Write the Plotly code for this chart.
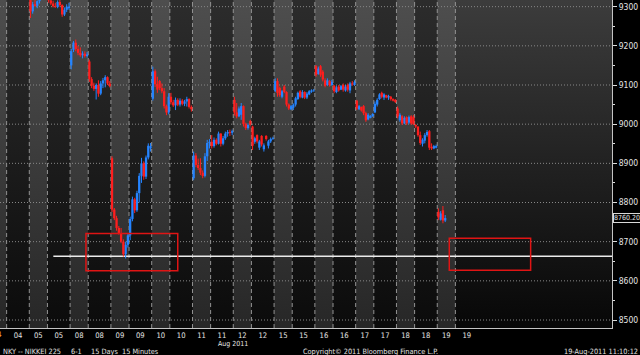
import plotly.graph_objects as go

# ---------------- data ----------------
days = ["04", "05", "08", "09", "10", "11", "12", "15", "16", "17", "18", "19"]
AM_SLOTS = 8    # 15-minute slots in the morning session
PM_SLOTS = 10   # 15-minute slots in the afternoon session
bars_per_session = [0, 0] + [8, 10] * 10 + [4, 0]

opens = [
    9340, 9288, 9306, 9302, 9314, 9326, 9340, 9335,                      # 05 am
    9342, 9316, 9308, 9301, 9299, 9312, 9304, 9280, 9292, 9296,          # 05 pm
    9150, 9190, 9208, 9192, 9182, 9176, 9180, 9174,                      # 08 am
    9160, 9115, 9098, 9090, 9100, 9078, 9104, 9112, 9120, 9104,          # 08 pm
    8913, 8782, 8760, 8735, 8722, 8700, 8668, 8692,                      # 09 am
    8716, 8758, 8808, 8780, 8824, 8868, 8900, 8866, 8915, 8938,          # 09 pm
    9065, 9135, 9102, 9110, 9092, 9084, 9046, 9030,                      # 10 am
    9070, 9056, 9048, 9062, 9050, 9060, 9052, 9058, 9064, 9044,          # 10 pm
    8862, 8920, 8896, 8888, 8876, 8868, 8918, 8952,                      # 11 am
    8955, 8944, 8960, 8950, 8976, 8950, 8964, 8976, 8980, 8978,          # 11 pm
    9062, 9030, 9020, 9024, 9046, 9000, 8990, 9008,                      # 12 am
    8994, 8955, 8972, 8940, 8970, 8936, 8970, 8945, 8956, 8962,          # 12 pm
    9085, 9110, 9092, 9070, 9096, 9082, 9050, 9038,                      # 15 am
    9042, 9050, 9064, 9084, 9068, 9082, 9068, 9076, 9083, 9084,          # 15 pm
    9148, 9128, 9148, 9134, 9112, 9100, 9110, 9100,                      # 16 am
    9098, 9082, 9096, 9088, 9100, 9086, 9100, 9086, 9104, 9100,          # 16 pm
    9060, 9038, 9044, 9046, 9028, 9012, 9016, 9020,                      # 17 am
    9030, 9050, 9064, 9080, 9068, 9074, 9068, 9070, 9064, 9062,          # 17 pm
    9040, 9010, 9020, 9002, 9018, 9004, 9020, 9018,                      # 18 am
    8998, 8994, 8972, 8950, 8958, 8972, 8982, 8942, 8938, 8940,          # 18 pm
    8776, 8756, 8780, 8754,                                              # 19 am
]
highs = [
    9350, 9312, 9318, 9316, 9330, 9345, 9352, 9348,
    9350, 9328, 9315, 9310, 9316, 9318, 9306, 9298, 9306, 9310,
    9192, 9212, 9216, 9200, 9196, 9186, 9186, 9184,
    9165, 9120, 9106, 9104, 9112, 9110, 9118, 9125, 9122, 9110,
    8918, 8786, 8766, 8740, 8735, 8706, 8700, 8722,
    8764, 8815, 8812, 8830, 8875, 8914, 8905, 8920, 8951, 8952,
    9147, 9140, 9121, 9113, 9104, 9092, 9050, 9079,
    9080, 9062, 9068, 9066, 9066, 9064, 9062, 9070, 9066, 9048,
    8930, 8926, 8912, 8913, 8882, 8926, 8960, 8962,
    8972, 8966, 8964, 8981, 8977, 8970, 8981, 8985, 8986, 8986,
    9070, 9054, 9045, 9054, 9048, 9004, 9002, 9011,
    8996, 8968, 8974, 8960, 8972, 8951, 8972, 8960, 8966, 8968,
    9117, 9117, 9096, 9087, 9100, 9084, 9053, 9049,
    9053, 9070, 9083, 9087, 9087, 9084, 9082, 9087, 9089, 9090,
    9151, 9147, 9151, 9138, 9117, 9117, 9113, 9113,
    9100, 9098, 9100, 9100, 9104, 9100, 9104, 9108, 9110, 9112,
    9062, 9049, 9045, 9049, 9032, 9028, 9023, 9028,
    9058, 9066, 9079, 9083, 9079, 9075, 9075, 9072, 9066, 9064,
    9045, 9028, 9023, 9020, 9020, 9022, 9023, 9023,
    9000, 8994, 8981, 8964, 8977, 8985, 8985, 8951, 8947, 8948,
    8785, 8778, 8791, 8768,
]
lows = [
    9271, 9282, 9300, 9296, 9308, 9322, 9330, 9325,
    9310, 9304, 9298, 9297, 9296, 9300, 9274, 9276, 9286, 9292,
    9140, 9184, 9186, 9176, 9172, 9168, 9170, 9170,
    9108, 9092, 9085, 9063, 9070, 9074, 9092, 9094, 9100, 9094,
    8776, 8755, 8728, 8718, 8696, 8662, 8657, 8685,
    8704, 8752, 8773, 8776, 8800, 8850, 8858, 8860, 8910, 8930,
    9060, 9095, 9080, 9087, 9079, 9040, 9023, 9025,
    9050, 9044, 9036, 9046, 9045, 9048, 9046, 9045, 9040, 9032,
    8857, 8890, 8883, 8870, 8862, 8864, 8906, 8938,
    8938, 8940, 8946, 8948, 8943, 8946, 8960, 8968, 8970, 8972,
    9022, 9015, 9018, 9011, 8994, 8985, 8986, 8996,
    8934, 8950, 8951, 8934, 8943, 8930, 8958, 8938, 8952, 8960,
    9082, 9070, 9070, 9066, 9079, 9045, 9036, 9036,
    9036, 9045, 9062, 9066, 9066, 9064, 9064, 9074, 9080, 9083,
    9121, 9126, 9121, 9109, 9094, 9098, 9096, 9098,
    9079, 9079, 9083, 9087, 9083, 9083, 9083, 9079, 9098, 9098,
    9036, 9036, 9032, 9023, 9006, 9010, 9015, 9019,
    9028, 9045, 9062, 9066, 9062, 9066, 9062, 9060, 9058, 9054,
    9015, 9006, 8998, 9000, 8998, 9000, 8998, 8998,
    8990, 8968, 8947, 8943, 8951, 8968, 8934, 8934, 8936, 8938,
    8755, 8754, 8747, 8750,
]
closes = [
    9288, 9306, 9302, 9314, 9326, 9340, 9335, 9342,
    9316, 9308, 9301, 9299, 9312, 9304, 9280, 9292, 9300, 9300,
    9186, 9208, 9192, 9182, 9176, 9180, 9174, 9178,
    9115, 9098, 9090, 9100, 9078, 9104, 9112, 9120, 9104, 9097,
    8782, 8760, 8735, 8722, 8700, 8668, 8692, 8716,
    8758, 8808, 8780, 8824, 8868, 8900, 8866, 8915, 8945, 8944,
    9135, 9102, 9088, 9092, 9084, 9046, 9030, 9070,
    9056, 9048, 9062, 9050, 9060, 9052, 9058, 9064, 9044, 9038,
    8920, 8896, 8888, 8876, 8868, 8918, 8952, 8955,
    8944, 8960, 8950, 8976, 8950, 8964, 8976, 8980, 8978, 8982,
    9030, 9020, 9040, 9046, 9000, 8990, 8998, 9000,
    8945, 8964, 8956, 8956, 8948, 8946, 8962, 8956, 8962, 8964,
    9110, 9080, 9074, 9084, 9082, 9050, 9040, 9046,
    9050, 9066, 9080, 9070, 9082, 9068, 9078, 9084, 9086, 9086,
    9126, 9142, 9126, 9114, 9098, 9112, 9100, 9108,
    9084, 9094, 9086, 9097, 9088, 9096, 9088, 9104, 9102, 9107,
    9040, 9046, 9035, 9028, 9010, 9024, 9021, 9026,
    9052, 9062, 9076, 9070, 9076, 9068, 9072, 9064, 9060, 9057,
    9020, 9024, 9002, 9016, 9002, 9018, 9002, 9000,
    8994, 8972, 8952, 8960, 8972, 8980, 8940, 8938, 8944, 8944,
    8762, 8772, 8754, 8760.20,
]
last_price = 8760.20
y_ticks = [8500, 8600, 8700, 8800, 8900, 9000, 9100, 9200, 9300]
y_minor = [8550, 8650, 8750, 8850, 8950, 9050, 9150, 9250]
y_range = [8479.6, 9317.0]
x_range = [5.07, 275.1]           # in 15-minute slot units

support_level = 8663
support_start = 28.6
box_x0 = [43.0, 203.3]
box_x1 = [83.5, 239.2]
box_y0 = [8626, 8627]
box_y1 = [8721, 8709]

# ---------------- layout helpers ----------------
DAY = AM_SLOTS + PM_SLOTS
sessions = []
for k, d in enumerate(days):
    sessions.append((d, k * DAY, AM_SLOTS, "am"))
    sessions.append((d, k * DAY + AM_SLOTS, PM_SLOTS, "pm"))

xs = []
for (d, start, length, kind), n in zip(sessions, bars_per_session):
    xs += [start + i + 0.5 for i in range(n)]
assert len(xs) == len(opens) == len(highs) == len(lows) == len(closes)

shown = sessions[:-1]  # sessions up to the current one get bands


def rects(items, y0, y1):
    px, py = [], []
    for (_, s, ln, _) in items:
        px += [s, s + ln, s + ln, s, s, None]
        py += [y0, y0, y1, y1, y0, None]
    return px, py


FONT = "Liberation Sans Narrow, DejaVu Sans Condensed, Arial Narrow, sans-serif"
TXT = "#e4e4e4"
UP = "#2584ff"
DOWN = "#ff1e1e"
y0, y1 = y_range

fig = go.Figure()

# base background
fig.add_trace(go.Scatter(
    x=[x_range[0], x_range[1], x_range[1], x_range[0], x_range[0]],
    y=[y0, y0, y1, y1, y0], mode="lines", line=dict(width=0),
    fill="toself", hoverinfo="skip", showlegend=False,
    fillgradient=dict(type="vertical", start=y0, stop=y1,
                      colorscale=[[0, "#070707"], [1, "#3c3c3c"]])))

for kind, cs in (("am", [[0, "#272727"], [1, "#4e4e4e"]]),
                 ("pm", [[0, "#0b0b0b"], [1, "#2c2c2c"]])):
    bx, by = rects([s for s in shown if s[3] == kind], y0, y1)
    fig.add_trace(go.Scatter(
        x=bx, y=by, mode="lines", line=dict(width=0), fill="toself",
        hoverinfo="skip", showlegend=False,
        fillgradient=dict(type="vertical", start=y0, stop=y1, colorscale=cs)))

# horizontal dotted grid
gx, gy = [], []
for t in y_ticks:
    gx += [x_range[0], x_range[1], None]
    gy += [t, t, None]
fig.add_trace(go.Scatter(x=gx, y=gy, mode="lines", hoverinfo="skip", showlegend=False,
                         line=dict(color="#888888", width=1, dash="1px,2px")))

# vertical dashed session separators
bounds = sorted({s[1] for s in shown} | {shown[-1][1] + shown[-1][2]})
vx, vy = [], []
for b in bounds:
    vx += [b, b, None]
    vy += [y0, y1, None]
fig.add_trace(go.Scatter(x=vx, y=vy, mode="lines", hoverinfo="skip", showlegend=False,
                         line=dict(color="#929292", width=1, dash="4px,3px")))

# support line
fig.add_trace(go.Scatter(x=[support_start, x_range[1]], y=[support_level, support_level],
                         mode="lines", hoverinfo="skip", showlegend=False,
                         line=dict(color="#ececec", width=1.5)))


# candles (wick + body drawn as line segments on the price axis)
def candle_paths(up):
    wx, wy, bx, by = [], [], [], []
    for x, o, h, l, c in zip(xs, opens, highs, lows, closes):
        if (c >= o) != up:
            continue
        wx += [x, x, None]
        wy += [l, h, None]
        bx += [x, x, None]
        by += [o, c, None]
    return wx, wy, bx, by


for up, col in ((True, UP), (False, DOWN)):
    wx, wy, bx, by = candle_paths(up)
    fig.add_trace(go.Scatter(x=wx, y=wy, mode="lines", hoverinfo="skip", showlegend=False,
                             line=dict(color=col, width=1)))
    fig.add_trace(go.Scatter(x=bx, y=by, mode="lines", hoverinfo="skip", showlegend=False,
                             line=dict(color=col, width=2.3)))

# red boxes
for a, b, c, d in zip(box_x0, box_x1, box_y0, box_y1):
    fig.add_shape(type="rect", x0=a, x1=b, y0=c, y1=d, xref="x", yref="y",
                  line=dict(color="#e01414", width=1.5), fillcolor="rgba(0,0,0,0)",
                  layer="above")

tickvals = [s[1] + s[2] / 2 for s in sessions]
ticktext = [s[0] for s in sessions]

fig.update_layout(
    width=640, height=355,
    margin=dict(l=0, r=28, t=0, b=27),
    paper_bgcolor="black", plot_bgcolor="black",
    font=dict(family=FONT, size=8, color=TXT),
    xaxis=dict(range=x_range, tickmode="array", tickvals=tickvals, ticktext=ticktext,
               showgrid=False, zeroline=False, showline=True, linecolor="#c4c4c4",
               linewidth=1, ticks="", fixedrange=True,
               tickfont=dict(family=FONT, size=7.6, color=TXT)),
    yaxis=dict(range=y_range, side="right", tickmode="array", tickvals=y_ticks,
               ticktext=[str(t) for t in y_ticks], showgrid=False, zeroline=False,
               showline=True, linecolor="#c4c4c4", linewidth=1,
               ticks="outside", ticklen=4, tickcolor="#dcdcdc",
               minor=dict(tickmode="array", tickvals=y_minor, ticks="outside",
                          ticklen=2, tickcolor="#dcdcdc", showgrid=False),
               tickfont=dict(family=FONT, size=8.5, color=TXT), fixedrange=True),
)

PW = 612.0
PH = 328.0


def px_x(p):
    return p / PW


def px_y(p):
    return (PH - p) / PH


ann = [
    ("04", -2.4, 334.0, "center", "#f0a030", 7.6),
    ("NKY -- NIKKEI 225", 1, 351.5, "left", TXT, 7.3),
    ("6-1", 69, 351.5, "left", TXT, 7.3),
    ("15 Days", 89, 351.5, "left", TXT, 7.3),
    ("15 Minutes", 120, 351.5, "left", TXT, 7.3),
    ("Copyright\u00a9 2011 Bloomberg Finance L.P.", 301, 351.5, "left", TXT, 7.3),
    ("19-Aug-2011 11:10:12", 640, 351.5, "right", TXT, 7.3),
    ("Aug 2011", 233, 344.0, "center", TXT, 7.0),
]
for text, x, y, anchor, col, sz in ann:
    fig.add_annotation(text=text, x=px_x(x), y=px_y(y), xref="paper", yref="paper",
                       xanchor=anchor, yanchor="middle", showarrow=False,
                       font=dict(family=FONT, size=sz, color=col))

fig.add_annotation(text="%.2f" % last_price, x=1.0, y=last_price, xref="paper", yref="y",
                   xanchor="left", yanchor="middle", xshift=1, showarrow=False,
                   bgcolor="#000000", bordercolor="#d8d8d8", borderwidth=1, borderpad=0,
                   font=dict(family=FONT, size=7, color=TXT))

fig.write_html("out.html")
